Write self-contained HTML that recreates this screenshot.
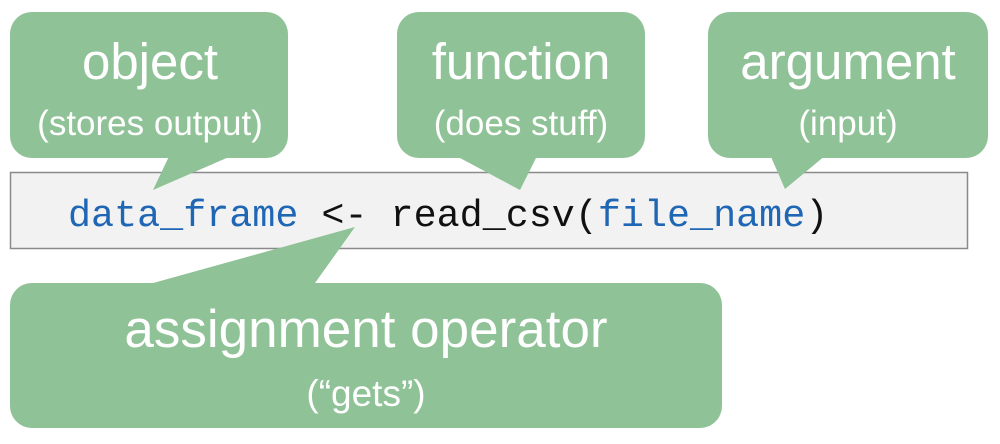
<!DOCTYPE html>
<html><head><style>
body{margin:0;width:1000px;height:444px;background:#fff;overflow:hidden}
svg{display:block}
</style></head><body>
<svg width="1000" height="444" viewBox="0 0 1000 444" xmlns="http://www.w3.org/2000/svg">
<rect x="10.5" y="172.5" width="957" height="76" fill="#f2f2f2" stroke="#8a8a8a" stroke-width="1.5"/>
<g fill="#8fc296">
<rect x="10" y="12" width="278" height="146" rx="22"/>
<polygon points="172,150 245,150 153,190"/>
<rect x="397" y="12" width="248" height="146" rx="22"/>
<polygon points="445,150 540,150 520,190"/>
<rect x="708" y="12" width="280" height="146" rx="22"/>
<polygon points="768,150 832,150 785,189"/>
<rect x="10" y="283" width="712" height="145" rx="22"/>
<polygon points="128,290 310,290 355,227"/>
</g>
<g font-family="Liberation Sans, sans-serif" fill="#fff" text-anchor="middle">
<text x="150" y="79" font-size="51">object</text>
<text x="150" y="135" font-size="35">(stores output)</text>
<text x="521" y="79" font-size="51">function</text>
<text x="521" y="135" font-size="35">(does stuff)</text>
<text x="848" y="79" font-size="51">argument</text>
<text x="848" y="135" font-size="35">(input)</text>
<text x="366" y="347" font-size="53">assignment operator</text>
<text x="366" y="406" font-size="37">(“gets”)</text>
</g>
<text x="68" y="226" font-family="Liberation Mono, monospace" font-size="38.4" fill="#111" xml:space="preserve"><tspan fill="#1f66b5">data_frame</tspan> &lt;- read_csv(<tspan fill="#1f66b5">file_name</tspan>)</text>
</svg>
</body></html>
